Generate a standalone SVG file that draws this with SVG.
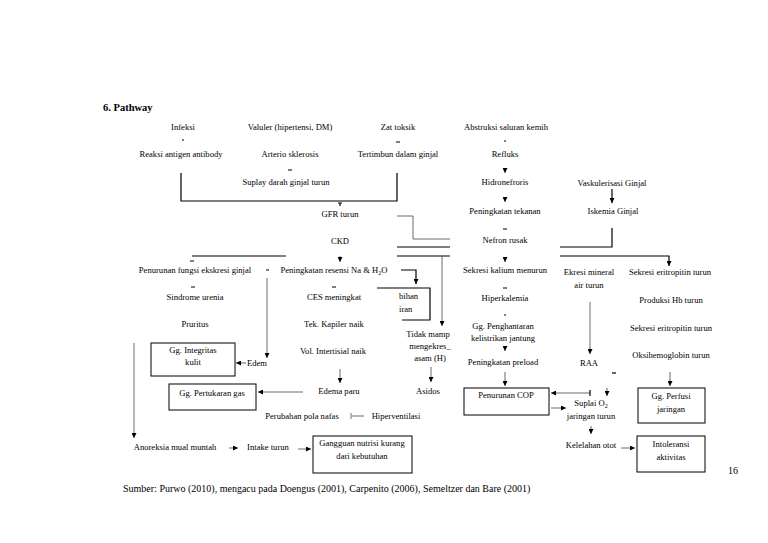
<svg xmlns="http://www.w3.org/2000/svg" width="768" height="543" viewBox="0 0 768 543">
<style>
text{font-family:"Liberation Serif","Times New Roman",serif;font-size:8.6px;fill:#000;text-anchor:middle}
.st{text-anchor:start}
.title{font-size:10.5px;font-weight:bold;text-anchor:start}
.foot{font-size:10px;text-anchor:start}
.box{fill:#fff;stroke:#000;stroke-width:1}
.ln{fill:none;stroke:#444;stroke-width:0.8}
.bk{fill:none;stroke:#000;stroke-width:1.2}
.tk{fill:none;stroke:#000;stroke-width:1.2}
</style>
<defs>
<marker id="a" markerUnits="userSpaceOnUse" markerWidth="5" markerHeight="5" refX="5" refY="2.5" orient="auto">
<path d="M0,0 L5,2.5 L0,5 z" fill="#000"/>
</marker>
</defs>
<rect width="768" height="543" fill="#fff"/>
<text class="title" x="103" y="111">6. Pathway</text>

<g id="connectors">
<path class="bk" d="M181,173 V201 H397 V173"/>
<path class="ln" d="M397,216 H413 V239 H450"/>
<path class="bk" d="M397,247 H450 M397,256 H450"/>
<path class="bk" d="M192,256 H286"/>
<path class="bk" d="M612,228 V247 H560"/>
<path class="bk" d="M560,256 H669 V266" marker-end="url(#a)"/>
<path class="bk" d="M612,189 V203" marker-end="url(#a)"/>
<path class="bk" d="M401,270 H416 V284" marker-end="url(#a)"/>
<path class="bk" d="M377,288 H430 V320 H402"/>
<path class="ln" d="M442,256 V326" marker-end="url(#a)"/>
<path class="ln" d="M431,367 V382" marker-end="url(#a)"/>
<path class="ln" d="M340,369 V383" marker-end="url(#a)"/>
<path class="ln" d="M303,392 H258" marker-end="url(#a)"/>
<path class="ln" d="M267,278 V358" marker-end="url(#a)"/>
<path class="ln" d="M246,363 H236" marker-end="url(#a)"/>
<path class="ln" d="M134,343 V438" marker-end="url(#a)"/>
<path class="ln" d="M229,448 H238" marker-end="url(#a)"/>
<path class="ln" d="M298,449 H311" marker-end="url(#a)"/>
<path class="ln" d="M364,416 H352 M351,413 V419"/>
<path class="ln" d="M505,372 V386" marker-end="url(#a)"/>
<path class="ln" d="M590,393 H551" marker-end="url(#a)"/>
<path class="tk" d="M590,390 V396"/>
<path class="ln" d="M551,408 H566" marker-end="url(#a)"/>
<path class="ln" d="M590,302 V354" marker-end="url(#a)"/>
<path class="ln" d="M607,388 V396" marker-end="url(#a)"/>
<path class="tk" d="M612,373 H616"/>
<path class="ln" d="M670,372 V386" marker-end="url(#a)"/>
<path class="ln" d="M591,426 V434" marker-end="url(#a)"/>
<path class="ln" d="M621,448 H635" marker-end="url(#a)"/>
<path class="ln" d="M505,168 V173" marker-end="url(#a)"/>
<path class="ln" d="M505,197 V202" marker-end="url(#a)"/>
<path class="ln" d="M340,256 V262" marker-end="url(#a)"/>
<path class="ln" d="M505,257 V262" marker-end="url(#a)"/>
<path class="ln" d="M505,346 V351" marker-end="url(#a)"/>
<path class="tk" d="M182,140 H184 M288,170 H292 M396,142 H400 M504,141 H506 M338,203 H342 M340,203 V206 M503,229 H507 M190,261 H194 M266,270 H269 M332,287 H336 M503,288 H507 M504,315 H506 M191,287 H195"/>
</g>

<g id="n-infeksi"><text x="183" y="130">Infeksi</text></g>
<g id="n-valuler"><text x="290" y="130">Valuler (hipertensi, DM)</text></g>
<g id="n-zat"><text x="398" y="130">Zat toksik</text></g>
<g id="n-abstruksi"><text x="506" y="130">Abstruksi saluran kemih</text></g>
<g id="n-reaksi"><text x="181" y="157">Reaksi antigen antibody</text></g>
<g id="n-arterio"><text x="290" y="157">Arterio sklerosis</text></g>
<g id="n-tertimbun"><text x="398" y="157">Tertimbun dalam ginjal</text></g>
<g id="n-refluks"><text x="505" y="157">Refluks</text></g>
<g id="n-suplay"><text x="286" y="185">Suplay darah ginjal turun</text></g>
<g id="n-hidro"><text x="505" y="185">Hidronefroris</text></g>
<g id="n-vasku"><text x="612" y="186">Vaskulerisasi Ginjal</text></g>
<g id="n-gfr"><text x="340" y="217">GFR turun</text></g>
<g id="n-tekanan"><text x="505" y="214">Peningkatan tekanan</text></g>
<g id="n-iskemia"><text x="613" y="214">Iskemia Ginjal</text></g>
<g id="n-ckd"><text x="340" y="244">CKD</text></g>
<g id="n-nefron"><text x="505" y="243">Nefron rusak</text></g>
<g id="n-fungsi"><text x="195" y="273">Penurunan fungsi ekskresi ginjal</text></g>
<g id="n-resensi"><text x="334" y="273">Peningkatan resensi Na &amp; H<tspan font-size="6" dy="2">2</tspan><tspan dy="-2">O</tspan></text></g>
<g id="n-kalium"><text x="505" y="273">Sekresi kalium menurun</text></g>
<g id="n-ekresi"><text x="589" y="275">Ekresi mineral</text><text x="589" y="288">air turun</text></g>
<g id="n-eritro1"><text x="670" y="275">Sekresi eritropitin turun</text></g>
<g id="n-sindrome"><text x="195" y="300">Sindrome urenia</text></g>
<g id="n-ces"><text x="334" y="300">CES meningkat</text></g>
<g id="n-kelebihan"><text class="st" x="399" y="299">bihan</text><text class="st" x="399" y="312">iran</text></g>
<g id="n-hiperkalemia"><text x="505" y="301">Hiperkalemia</text></g>
<g id="n-produksi"><text x="671" y="303">Produksi Hb turun</text></g>
<g id="n-pruritus"><text x="195" y="327">Pruritus</text></g>
<g id="n-tek"><text x="334" y="327">Tek. Kapiler naik</text></g>
<g id="n-penghantaran"><text x="503" y="329">Gg. Penghantaran</text><text x="503" y="341">kelistrikan jantung</text></g>
<g id="n-eritro2"><text x="671" y="331">Sekresi eritropitin turun</text></g>
<g id="n-tidak"><text x="428" y="337">Tidak mamp</text><text x="430" y="349">mengekres_</text><text x="430" y="361">asam (H)</text></g>
<g id="n-vol"><text x="333" y="354">Vol. Intertisial naik</text></g>
<g id="n-oksi"><text x="671" y="358">Oksihemoglobin turun</text></g>
<g id="n-integritas"><rect class="box" x="151" y="343" width="84" height="33"/><text x="193" y="353">Gg. Integritas</text><text x="193" y="365">kulit</text></g>
<g id="n-edem"><text x="257" y="366">Edem</text></g>
<g id="n-raa"><text x="589" y="366">RAA</text></g>
<g id="n-preload"><text x="503" y="365">Peningkatan preload</text></g>
<g id="n-pertukaran"><rect class="box" x="169" y="384" width="87" height="26"/><text x="212" y="396">Gg. Pertukaran gas</text></g>
<g id="n-edemaparu"><text x="339" y="394">Edema paru</text></g>
<g id="n-asidos"><text x="428" y="394">Asidos</text></g>
<g id="n-cop"><rect class="box" x="464" y="388" width="85" height="27"/><text x="506" y="398">Penurunan COP</text></g>
<g id="n-perfusi"><rect class="box" x="638" y="388" width="67" height="35"/><text x="671" y="399">Gg. Perfusi</text><text x="671" y="412">jaringan</text></g>
<g id="n-suplai"><text x="591" y="406">Suplai O<tspan font-size="6" dy="2">2</tspan></text><text x="591" y="419">jaringan turun</text></g>
<g id="n-perubahan"><text x="302" y="419">Perubahan pola nafas</text></g>
<g id="n-hiperventilasi"><text x="396" y="419">Hiperventilasi</text></g>
<g id="n-anoreksia"><text x="175" y="450">Anoreksia mual muntah</text></g>
<g id="n-intake"><text x="268" y="450">Intake turun</text></g>
<g id="n-gangguan"><rect class="box" x="313" y="436" width="99" height="37"/><text x="362" y="446">Gangguan nutrisi kurang</text><text x="362" y="459">dari kebutuhan</text></g>
<g id="n-kelelahan"><text x="591" y="448">Kelelahan otot</text></g>
<g id="n-intoleransi"><rect class="box" x="637" y="436" width="68" height="36"/><text x="671" y="447">Intoleransi</text><text x="671" y="460">aktivitas</text></g>

<text class="foot" x="123" y="492">Sumber: Purwo (2010), mengacu pada Doengus (2001), Carpenito (2006), Semeltzer dan Bare (2001)</text>
<text class="foot" x="728" y="474">16</text>
</svg>
